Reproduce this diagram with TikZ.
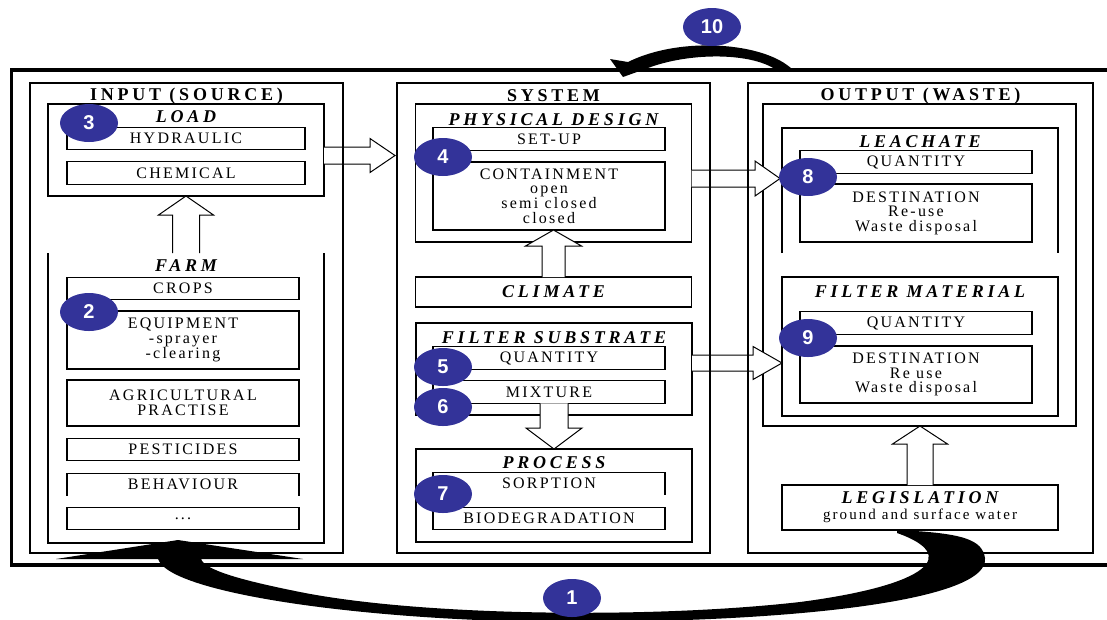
\documentclass[tikz,border=0pt]{standalone}
\usepackage{fontspec}
\newfontfamily\diafont[LetterSpace=14]{Liberation Serif}
\newfontfamily\hdfont[LetterSpace=21]{Liberation Serif}
\newfontfamily\numfont{Liberation Sans}
\usetikzlibrary{shapes.geometric, calc}
\definecolor{badgeBlue}{HTML}{333399}

% hollow block arrow, vertical: start, tip, half shaft, half head, head length
\newcommand{\vblock}[5]{%
  \draw[blockar] let \p1=(#1), \p2=(#2), \p3=($(#2)!#5!(#2|-#1)$) in
    (\x2-#3,\y1) -- (\x2-#3,\y3) -- (\x2-#4,\y3) -- (\p2) -- (\x2+#4,\y3)
    -- (\x2+#3,\y3) -- (\x2+#3,\y1);}
% hollow block arrow, pointing right
\newcommand{\hblock}[5]{%
  \draw[blockar] let \p1=(#1), \p2=(#2) in
    (\x1,\y2+#3) -- (\x2-#5,\y2+#3) -- (\x2-#5,\y2+#4) -- (\p2) -- (\x2-#5,\y2-#4)
    -- (\x2-#5,\y2-#3) -- (\x1,\y2-#3);}

\begin{document}
\begin{tikzpicture}[x=1pt, y=-1pt,
  every node/.style={outer sep=0pt},
  item/.style={draw, line width=1.1pt, inner sep=0pt, align=center, minimum width=232pt,
               minimum height=22.5pt, font=\diafont\fontsize{16}{14.6}\selectfont},
  grp/.style={draw, line width=1.1pt, inner sep=0pt, minimum width=276pt},
  col/.style={draw, line width=2.6pt, inner sep=0pt, minimum width=313pt, minimum height=470pt},
  ttl/.style={font=\hdfont\bfseries\fontsize{18}{18}\selectfont, inner sep=0pt},
  sub/.style={font=\hdfont\bfseries\itshape\fontsize{18}{18}\selectfont, inner sep=0pt},
  blockar/.style={draw, fill=white, line width=1pt, line join=miter},
  badge/.style={ellipse, fill=badgeBlue, minimum width=58pt, minimum height=38pt, inner sep=0pt,
                text=white, font=\numfont\bfseries\fontsize{20}{20}\selectfont},
]
\useasboundingbox (0,0) rectangle (1107,619);

\node[draw, line width=1.1pt, minimum width=313pt, minimum height=322pt] (outin) at (919.5,265) {};

% input (source)
\node[grp, minimum height=92pt] (load) at (186,150) {};
\node[item, minimum width=238pt] (hyd) at (186,138.5) {HYDRAULIC};
\node[item, minimum width=238pt] (chem) at (186,173) {CHEMICAL};
\node[grp, draw=none, minimum height=290pt] (farm) at (186,398) {};
\draw[line width=1.1pt] (farm.north west) -- (farm.south west) -- (farm.south east) -- (farm.north east);
\node[item] (crops) at (183,288.5) {CROPS};
\node[item, minimum height=58pt] (equip) at (183,340) {EQUIPMENT\\-sprayer\\-clearing};
\node[item, minimum height=46pt] (agri) at (183,403) {AGRICULTURAL\\PRACTISE};
\node[item] (pest) at (183,449.5) {PESTICIDES};
\node[item, draw=none] (behav) at (183,484.5) {BEHAVIOUR};
\draw[line width=1.1pt] (behav.south west) -- (behav.north west) -- (behav.north east) -- (behav.south east);
\node[item] (etc) at (183,518.5) {...};

% system
\node[grp, minimum height=138pt] (pd) at (553.5,173) {};
\node[item] (setup) at (549,139) {SET-UP};
\node[item, minimum height=68pt] (contain) at (549,196) {CONTAINMENT\\open\\semi closed\\closed};
\node[grp, sub, minimum height=30pt] (climate) at (553.5,292) {CLIMATE};
\node[grp, minimum height=92pt] (fs) at (554,369) {};
\node[item] (qty) at (549,358) {QUANTITY};
\node[item] (mix) at (549,392) {MIXTURE};
\node[grp, minimum height=93pt] (proc) at (554,495.5) {};
\node[item, draw=none] (sorp) at (549,483.5) {SORPTION};
\draw[line width=1.1pt] (sorp.south west) -- (sorp.north west) -- (sorp.north east) -- (sorp.south east);
\node[item] (biod) at (549,518.5) {BIODEGRADATION};

% output (waste)
\node[grp, draw=none, minimum height=125pt] (leach) at (920,190.5) {};
\draw[line width=1.1pt] (leach.south west) -- (leach.north west) -- (leach.north east) -- (leach.south east);
\node[item] (lqty) at (916,162) {QUANTITY};
\node[item, minimum height=58pt] (ldest) at (916,213) {DESTINATION\\Re-use\\Waste disposal};
\node[grp, minimum height=139pt] (fm) at (920,346.5) {};
\node[item] (fqty) at (916,323) {QUANTITY};
\node[item, minimum height=57pt] (fdest) at (916,374.5) {DESTINATION\\Re use\\Waste disposal};
\node[grp, minimum height=45pt, align=center, font=\diafont\fontsize{15}{15}\selectfont] (legis) at (920,507.5)
  {{\hdfont\bfseries\itshape\fontsize{18}{18}\selectfont LEGISLATION}\\[1pt] ground and surface water};

\node[sub] (tload) at ([yshift=-13pt]load.north) {LOAD};
\node[sub] (tfarm) at ([yshift=-13pt]farm.north) {FARM};
\node[sub] (tpd) at ([yshift=-16pt]pd.north) {PHYSICAL DESIGN};
\node[sub] (tfs) at ([yshift=-15pt]fs.north) {FILTER SUBSTRATE};
\node[sub] (tproc) at ([yshift=-14pt]proc.north) {PROCESS};
\node[sub] (tleach) at ([yshift=-14pt]leach.north) {LEACHATE};
\node[sub] (tfm) at ([yshift=-15pt]fm.north) {FILTER MATERIAL};

% block arrows
\coordinate (tipL) at (395,155.5);
\coordinate (tipP) at (780,178.5);
\coordinate (tipF) at (782,363);
\coordinate (tipC) at (climate.north |- contain.south);
\coordinate (tipG) at (legis.north |- outin.south);
\vblock{farm.north}{load.south}{13.5pt}{27.5pt}{19pt}
\vblock{climate.north}{tipC}{11.5pt}{28pt}{16pt}
\vblock{mix.south}{proc.north}{14pt}{28pt}{21pt}
\vblock{legis.north}{tipG}{13pt}{27.5pt}{18pt}
\hblock{load.east}{tipL}{8.5pt}{17pt}{25pt}
\hblock{pd.east}{tipP}{8.5pt}{17.5pt}{25pt}
\hblock{fs.east}{tipF}{8pt}{16.5pt}{29pt}

% columns
\node[col] (colin) at (186.5,318) {};
\node[col] (colsys) at (553.5,318) {};
\node[col, minimum width=345pt] (colout) at (920.5,318) {};
\node[ttl] (tin) at ([yshift=-13pt]colin.north) {INPUT (SOURCE)};
\node[ttl] (tsys) at ([yshift=-13pt]colsys.north) {SYSTEM};
\node[ttl] (tout) at ([yshift=-13pt]colout.north) {OUTPUT (WASTE)};

\draw[line width=3.5pt] (1115,70) -- (11.5,70) -- (11.5,565) -- (1115,565);

% feedback arrows
\fill (158,559) .. controls (170,595) and (380,622) .. (570,622)
  .. controls (800,622) and (990,600) .. (985,558)
  .. controls (982,540) and (965,533) .. (897,530) -- (897,533)
  .. controls (960,555) and (930,585) .. (800,602)
  .. controls (650,619) and (420,616) .. (300,592)
  .. controls (240,580) and (205,570) .. (201,559)
  -- (303,559) -- (178,540) -- (56,559) -- cycle;
\fill (793,70) .. controls (765,42) and (680,36) .. (628,62) -- (610,59) -- (623,77)
  -- (648,68) .. controls (690,52) and (755,52) .. (779,72) -- cycle;

\foreach \n/\p in {1/{572,598}, 2/{89,312}, 3/{89,123}, 4/{443,157}, 5/{443,367},
                   6/{443,407}, 7/{443,494}, 8/{808,177}, 9/{808,338}, 10/{712,27}}
  \node[badge] (b\n) at (\p) {\n};
\end{tikzpicture}
\end{document}
